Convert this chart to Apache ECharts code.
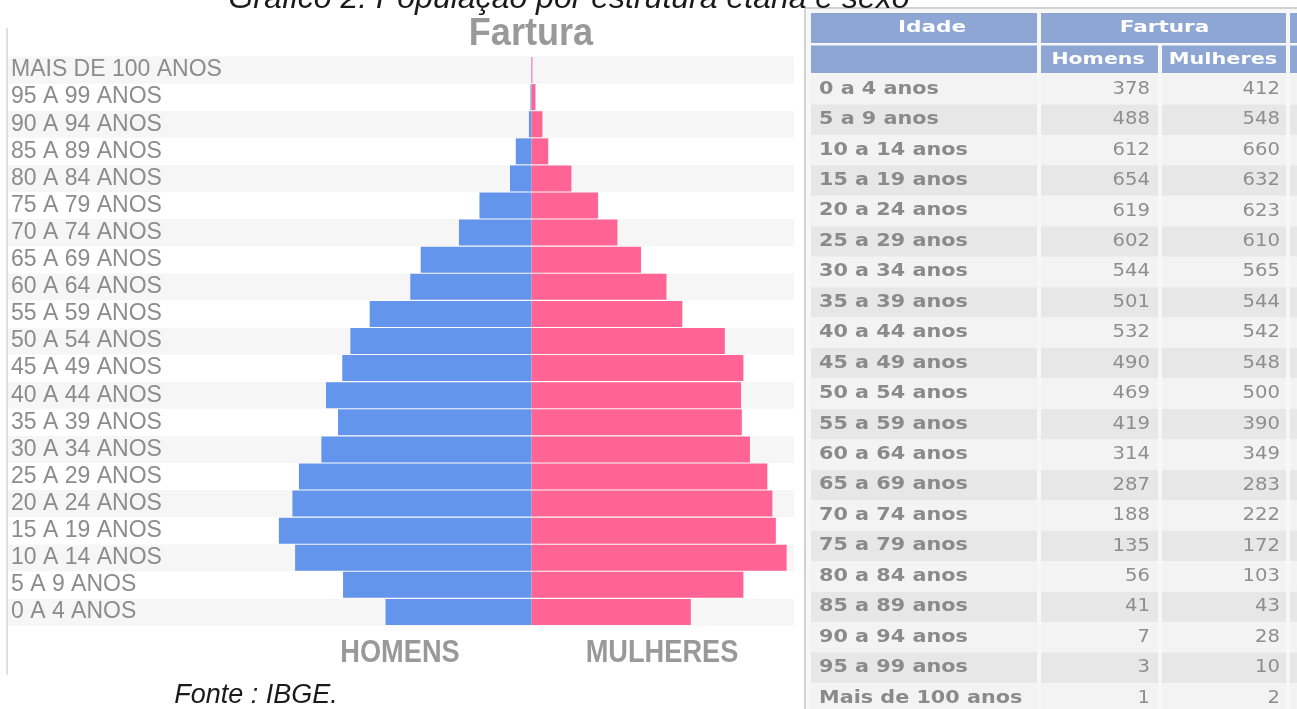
<!DOCTYPE html>
<html>
<head>
<meta charset="utf-8">
<script src="https://cdn.jsdelivr.net/npm/echarts@6/dist/echarts.min.js"></script>
<style>
  html, body { margin: 0; padding: 0; background: #fff; }
  #chart { width: 1297px; height: 709px; }
</style>
</head>
<body>
<div id="chart"></div>
<script>
// pyramid categories, bottom to top
const ageLabels = [
  '0 A 4 ANOS', '5 A 9 ANOS', '10 A 14 ANOS', '15 A 19 ANOS', '20 A 24 ANOS',
  '25 A 29 ANOS', '30 A 34 ANOS', '35 A 39 ANOS', '40 A 44 ANOS', '45 A 49 ANOS',
  '50 A 54 ANOS', '55 A 59 ANOS', '60 A 64 ANOS', '65 A 69 ANOS', '70 A 74 ANOS',
  '75 A 79 ANOS', '80 A 84 ANOS', '85 A 89 ANOS', '90 A 94 ANOS', '95 A 99 ANOS',
  'MAIS DE 100 ANOS'
];
const tableAges = [
  '0 a 4 anos', '5 a 9 anos', '10 a 14 anos', '15 a 19 anos', '20 a 24 anos',
  '25 a 29 anos', '30 a 34 anos', '35 a 39 anos', '40 a 44 anos', '45 a 49 anos',
  '50 a 54 anos', '55 a 59 anos', '60 a 64 anos', '65 a 69 anos', '70 a 74 anos',
  '75 a 79 anos', '80 a 84 anos', '85 a 89 anos', '90 a 94 anos', '95 a 99 anos',
  'Mais de 100 anos'
];
const menValues = [378, 488, 612, 654, 619, 602, 544, 501, 532, 490, 469, 419, 314, 287, 188, 135, 56, 41, 7, 3, 1];
const womenValues = [412, 548, 660, 632, 623, 610, 565, 544, 542, 548, 500, 390, 349, 283, 222, 172, 103, 43, 28, 10, 2];
const headerTop = ['Idade', 'Fartura'];
const headerSub = ['Homens', 'Mulheres'];

const caption = 'Gráfico 2: População por estrutura etária e sexo';
const source = 'Fonte : IBGE.';

// table layout
const cols = [[811, 1037], [1041, 1158], [1162, 1286], [1290, 1320]];
const rowTop = 74;
const rowPitch = 30.45;
const blue = '#8da6d3';

function tableGraphics() {
  const els = [];
  els.push({ type: 'rect', shape: { x: 805, y: 8, width: 520, height: 720 },
    style: { fill: '#f7f7f7', stroke: '#d2d2d2', lineWidth: 2 } });

  // header rows
  const top1 = [[cols[0][0], cols[0][1]], [cols[1][0], cols[2][1]], [cols[3][0], cols[3][1]]];
  top1.forEach(function (c) {
    els.push({ type: 'rect', shape: { x: c[0], y: 13, width: c[1] - c[0], height: 30 }, style: { fill: blue } });
  });
  cols.forEach(function (c) {
    els.push({ type: 'rect', shape: { x: c[0], y: 45.5, width: c[1] - c[0], height: 27.5 }, style: { fill: blue } });
  });
  const headStyle = { fill: '#fff', fontFamily: 'DejaVu Sans', fontWeight: 'bold', fontSize: 16, align: 'center', verticalAlign: 'middle' };
  els.push({ type: 'text', x: (top1[0][0] + top1[0][1]) / 2 + 8, y: 28, scaleX: 1.35, style: Object.assign({ text: headerTop[0] }, headStyle) });
  els.push({ type: 'text', x: (top1[1][0] + top1[1][1]) / 2 + 1, y: 28, scaleX: 1.35, style: Object.assign({ text: headerTop[1] }, headStyle) });
  els.push({ type: 'text', x: 1098, y: 59.5, scaleX: 1.28, style: Object.assign({ text: headerSub[0] }, headStyle) });
  els.push({ type: 'text', x: 1223, y: 59.5, scaleX: 1.3, style: Object.assign({ text: headerSub[1] }, headStyle) });

  // body rows
  tableAges.forEach(function (age, i) {
    const y = rowTop + i * rowPitch;
    const fill = i % 2 === 0 ? '#f3f3f3' : '#e7e7e7';
    cols.forEach(function (c) {
      els.push({ type: 'rect', shape: { x: c[0], y: y, width: c[1] - c[0], height: rowPitch }, style: { fill: fill } });
    });
    const cy = y + rowPitch / 2;
    els.push({ type: 'text', x: 819, y: cy, scaleX: 1.22,
      style: { text: age, fill: '#8a8a8a', fontFamily: 'DejaVu Sans', fontWeight: 'bold', fontSize: 17, align: 'left', verticalAlign: 'middle' } });
    els.push({ type: 'text', x: 1150, y: cy, scaleX: 1.12,
      style: { text: String(menValues[i]), fill: '#8e8e8e', fontFamily: 'DejaVu Sans', fontSize: 17.5, align: 'right', verticalAlign: 'middle' } });
    els.push({ type: 'text', x: 1280, y: cy, scaleX: 1.12,
      style: { text: String(womenValues[i]), fill: '#8e8e8e', fontFamily: 'DejaVu Sans', fontSize: 17.5, align: 'right', verticalAlign: 'middle' } });
  });
  return els;
}

const chart = echarts.init(document.getElementById('chart'));

const graphics = [
  // chart panel left border
  { type: 'line', shape: { x1: 7, y1: 28, x2: 7, y2: 675 }, style: { stroke: '#d6d6d6', lineWidth: 1.5 } },
  { type: 'text', x: 531, y: 35, scaleX: 0.95,
    style: { text: 'Fartura', fill: '#999', fontFamily: 'Liberation Sans', fontWeight: 'bold', fontSize: 38, align: 'center', verticalAlign: 'middle' } },
  { type: 'text', x: 400, y: 653, scaleX: 0.85,
    style: { text: 'HOMENS', fill: '#999', fontFamily: 'Liberation Sans', fontWeight: 'bold', fontSize: 32, align: 'center', verticalAlign: 'middle' } },
  { type: 'text', x: 662, y: 653, scaleX: 0.85,
    style: { text: 'MULHERES', fill: '#999', fontFamily: 'Liberation Sans', fontWeight: 'bold', fontSize: 32, align: 'center', verticalAlign: 'middle' } },
  { type: 'text', x: 256, y: 695,
    style: { text: source, fill: '#1a1a1a', fontFamily: 'Liberation Sans', fontStyle: 'italic', fontSize: 27, align: 'center', verticalAlign: 'middle' } }
].concat(tableGraphics()).concat([
  { type: 'text', x: 569, y: -1,
    style: { text: caption, fill: '#1a1a1a', fontFamily: 'Liberation Sans', fontStyle: 'italic', fontSize: 32, align: 'center', verticalAlign: 'middle' } }
]);

chart.setOption({
  animation: false,
  backgroundColor: '#fff',
  grid: { left: 8, width: 786, top: 56.5, height: 569, containLabel: false },
  xAxis: {
    type: 'value',
    min: -1355,
    max: 679,
    show: false
  },
  yAxis: {
    type: 'category',
    data: ageLabels,
    axisLine: { show: false },
    axisTick: { show: false },
    axisLabel: {
      inside: true,
      interval: 0,
      margin: 3,
      color: '#8c8c8c',
      fontFamily: 'Liberation Sans',
      fontSize: 23,
      lineHeight: 27
    },
    splitLine: { show: false },
    splitArea: { show: true, interval: 0, areaStyle: { color: ['#f6f6f6', '#ffffff'] } }
  },
  series: [
    {
      name: 'Homens',
      type: 'bar',
      stack: 'pyr',
      data: menValues.map(function (v) { return -v; }),
      barCategoryGap: '4%',
      itemStyle: { color: '#6495ed' }
    },
    {
      name: 'Mulheres',
      type: 'bar',
      stack: 'pyr',
      data: womenValues,
      barCategoryGap: '4%',
      itemStyle: { color: '#ff6495' }
    }
  ],
  graphic: graphics
});
</script>
</body>
</html>
